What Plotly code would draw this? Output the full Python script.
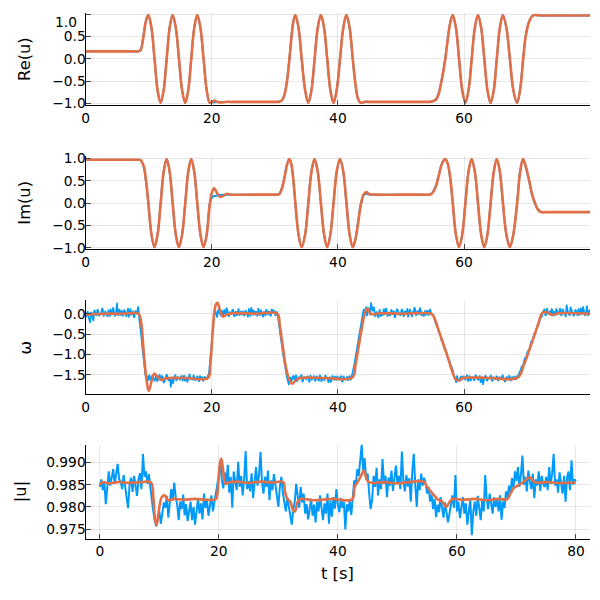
import plotly.graph_objects as go

# ---------------- data ----------------
# key times for the complex signal u (seconds)
t_uv = [0.0, 4.0, 7.5, 8.3, 8.7, 9.2, 9.6, 9.95, 10.44, 10.93, 11.41, 11.9, 12.375, 12.85, 13.325,
        13.8, 14.3, 14.8, 15.3, 15.8, 16.275, 16.75, 17.225, 17.7, 18.2, 18.7, 19.2, 19.7, 20.05,
        20.4, 20.8, 21.3, 21.8, 22.4, 23.0, 26.0, 29.5, 30.3, 30.7, 31.2, 31.6, 32.0, 32.3, 32.6,
        32.9, 33.25, 33.75, 34.25, 34.8, 35.3, 35.8, 36.3, 36.8, 37.3, 37.8, 38.3, 38.8, 39.3,
        39.8, 40.33, 40.85, 41.35, 41.85, 42.35, 42.8, 43.2, 43.65, 44.1, 44.5, 45.0, 46.0, 50.0,
        53.5, 54.4, 54.8, 55.5, 56.0, 56.5, 57.0, 57.4, 57.8, 58.2, 58.7, 59.2, 59.7, 60.2, 60.7,
        61.2, 61.7, 62.2, 62.7, 63.2, 63.7, 64.2, 64.7, 65.18, 65.67, 66.15, 66.7, 67.25, 67.8,
        68.4, 68.9, 69.35, 69.8, 70.3, 70.8, 71.2, 71.7, 72.2, 73.0, 76.0, 80.0]

re_meas = [0.17, 0.17, 0.17, 0.17, 0.20, 0.55, 0.88, 0.985, 0.70, 0.0, -0.70, -0.985, -0.70, 0.0, 0.70,
           0.985, 0.70, 0.0, -0.70, -0.985, -0.70, 0.0, 0.70, 0.985, 0.70, 0.0, -0.70, -0.985, -0.975,
           -0.968, -0.965, -0.962, -0.962, -0.962, -0.962, -0.962, -0.962, -0.962, -0.955, -0.91, -0.75, -0.40, 0.0, 0.45,
           0.82, 0.985, 0.70, 0.0, -0.70, -0.985, -0.70, 0.0, 0.70, 0.985, 0.70, 0.0, -0.70, -0.985,
           -0.70, 0.0, 0.70, 0.985, 0.70, 0.0, -0.60, -0.90, -0.985, -0.97, -0.962, -0.962, -0.962, -0.962,
           -0.962, -0.962, -0.955, -0.91, -0.75, -0.42, 0.0, 0.45, 0.82, 0.985, 0.70, 0.0, -0.70, -0.985, -0.70,
           0.0, 0.70, 0.985, 0.70, 0.0, -0.70, -0.985, -0.70, 0.0, 0.70, 0.985, 0.70, 0.0, -0.70,
           -0.985, -0.66, 0.0, 0.55, 0.84, 0.96, 0.985, 0.978, 0.975, 0.975, 0.975, 0.975]

re_est = [0.17, 0.17, 0.17, 0.17, 0.19, 0.52, 0.86, 0.985, 0.71, 0.02, -0.69, -0.985, -0.71, -0.02, 0.69,
          0.985, 0.71, 0.02, -0.69, -0.985, -0.71, -0.02, 0.69, 0.985, 0.71, 0.02, -0.69, -0.985, -0.96,
          -0.93, -0.955, -0.975, -0.972, -0.96, -0.962, -0.962, -0.962, -0.962, -0.957, -0.92, -0.77, -0.43, -0.03, 0.42,
          0.80, 0.985, 0.71, 0.02, -0.69, -0.985, -0.71, -0.02, 0.69, 0.985, 0.71, 0.02, -0.69, -0.985,
          -0.71, -0.02, 0.69, 0.985, 0.71, 0.02, -0.58, -0.89, -0.985, -0.965, -0.955, -0.962, -0.962, -0.962,
          -0.962, -0.962, -0.957, -0.92, -0.77, -0.45, -0.03, 0.42, 0.80, 0.985, 0.71, 0.02, -0.69, -0.985, -0.71,
          -0.02, 0.69, 0.985, 0.71, 0.02, -0.69, -0.985, -0.71, -0.02, 0.69, 0.985, 0.71, 0.02, -0.69,
          -0.985, -0.68, -0.03, 0.53, 0.83, 0.96, 0.985, 0.978, 0.975, 0.975, 0.975, 0.975]

im_meas = [0.97, 0.97, 0.97, 0.97, 0.96, 0.82, 0.46, 0.0, -0.70, -0.985, -0.70, 0.0, 0.70, 0.985, 0.70,
           0.0, -0.70, -0.985, -0.70, 0.0, 0.70, 0.985, 0.70, 0.0, -0.70, -0.985, -0.70, 0.0, 0.13,
           0.16, 0.17, 0.18, 0.185, 0.19, 0.19, 0.19, 0.19, 0.19, 0.21, 0.38, 0.64, 0.90, 0.985, 0.88,
           0.55, 0.0, -0.70, -0.985, -0.70, 0.0, 0.70, 0.985, 0.70, 0.0, -0.70, -0.985, -0.70, 0.0,
           0.70, 0.985, 0.70, 0.0, -0.70, -0.985, -0.78, -0.42, 0.0, 0.18, 0.21, 0.19, 0.19, 0.19,
           0.19, 0.19, 0.21, 0.38, 0.64, 0.89, 0.985, 0.88, 0.55, 0.0, -0.70, -0.985, -0.70, 0.0, 0.70,
           0.985, 0.70, 0.0, -0.70, -0.985, -0.70, 0.0, 0.70, 0.985, 0.70, 0.0, -0.70, -0.985, -0.70,
           0.0, 0.73, 0.985, 0.80, 0.50, 0.17, 0.0, -0.15, -0.20, -0.20, -0.20, -0.20]

im_est = [0.97, 0.97, 0.97, 0.97, 0.965, 0.84, 0.49, 0.02, -0.69, -0.985, -0.71, -0.02, 0.69, 0.985, 0.71,
          0.02, -0.69, -0.985, -0.71, -0.02, 0.69, 0.985, 0.71, 0.02, -0.69, -0.985, -0.71, -0.02, 0.25,
          0.33, 0.24, 0.14, 0.16, 0.21, 0.19, 0.19, 0.19, 0.19, 0.20, 0.36, 0.62, 0.89, 0.985, 0.89,
          0.58, 0.02, -0.69, -0.985, -0.71, -0.02, 0.69, 0.985, 0.71, 0.02, -0.69, -0.985, -0.71, -0.02,
          0.69, 0.985, 0.71, 0.02, -0.69, -0.985, -0.80, -0.45, -0.03, 0.20, 0.25, 0.20, 0.19, 0.19,
          0.19, 0.19, 0.20, 0.36, 0.62, 0.88, 0.985, 0.89, 0.58, 0.02, -0.69, -0.985, -0.71, -0.02, 0.69,
          0.985, 0.71, 0.02, -0.69, -0.985, -0.71, -0.02, 0.69, 0.985, 0.71, 0.02, -0.69, -0.985, -0.71,
          -0.02, 0.71, 0.985, 0.81, 0.52, 0.19, 0.02, -0.14, -0.20, -0.20, -0.20, -0.20]

# sampled measurement grid for omega and |u| (0.25 s)
t_fine = [i * 0.25 for i in range(321)]
# extra omega samples half-way between the 0.25 s grid points
t_half = [0.125 + i * 0.25 for i in range(320)]

omega_meas = [
    0.05, -0.03, -0.10, -0.22, 0.02, -0.18, 0.06, -0.05, 0.08, -0.02, 0.04, 0.10, -0.04, 0.03, -0.08, 0.05, 0.12, -0.03, 0.02, -0.06,
    0.27, 0.03, -0.05, 0.09, -0.02, 0.06, -0.08, 0.14, 0.01, -0.04, 0.07, -0.10, 0.05, 0.12, -0.12, -0.42, -0.85, -1.22, -1.52, -1.62,
    -1.55, -1.63, -1.52, -1.60, -1.66, -1.54, -1.58, -1.49, -1.61, -1.57, -1.68, -1.53, -1.59, -1.64, -1.81, -1.55, -1.60, -1.50, -1.62, -1.57,
    -1.63, -1.52, -1.58, -1.66, -1.55, -1.61, -1.48, -1.59, -1.64, -1.56, -1.60, -1.53, -1.67, -1.58, -1.55, -1.62, -1.57, -1.60, -1.50, -1.12,
    -0.62, -0.15, 0.03, -0.04, 0.08, 0.01, -0.06, 0.05, 0.11, -0.02, 0.04, -0.08, 0.02, 0.09, -0.03, 0.06, -0.05, 0.13, 0.00, -0.04,
    0.07, -0.02, 0.05, -0.09, 0.03, 0.16, -0.04, 0.02, 0.06, -0.07, 0.01, 0.10, -0.03, 0.05, -0.06, 0.08, 0.02, -0.04, 0.12, 0.01,
    -0.03, 0.05, -0.10, -0.36, -0.66, -0.95, -1.22, -1.45, -1.62, -1.75, -1.56, -1.63, -1.52, -1.60, -1.67, -1.55, -1.59, -1.50, -1.64, -1.57,
    -1.61, -1.53, -1.69, -1.56, -1.60, -1.52, -1.63, -1.58, -1.66, -1.54, -1.59, -1.62, -1.51, -1.57, -1.70, -1.55, -1.61, -1.58, -1.53, -1.64,
    -1.56, -1.60, -1.52, -1.67, -1.58, -1.62, -1.54, -1.59, -1.63, -1.50, -1.33, -1.10, -0.86, -0.60, -0.35, -0.12, 0.05, -0.03, 0.18, 0.07,
    0.10, 0.28, 0.06, 0.14, -0.05, 0.03, 0.09, -0.08, 0.04, 0.12, -0.03, 0.07, 0.01, -0.06, 0.11, 0.02, -0.10, 0.05, 0.08, -0.02,
    0.04, 0.09, -0.05, 0.02, 0.13, -0.03, 0.06, -0.08, 0.03, 0.10, -0.02, 0.05, 0.15, -0.06, 0.02, 0.07, -0.04, 0.09, 0.01, 0.03,
    -0.04, -0.10, -0.25, -0.31, -0.45, -0.52, -0.63, -0.76, -0.86, -0.95, -1.12, -1.17, -1.30, -1.40, -1.55, -1.70, -1.58, -1.64, -1.53, -1.60,
    -1.55, -1.62, -1.50, -1.59, -1.66, -1.56, -1.61, -1.53, -1.58, -1.64, -1.52, -1.60, -1.75, -1.57, -1.54, -1.62, -1.59, -1.51, -1.66, -1.58,
    -1.61, -1.55, -1.63, -1.57, -1.52, -1.60, -1.68, -1.56, -1.59, -1.54, -1.62, -1.58, -1.53, -1.58, -1.55, -1.47, -1.37, -1.29, -1.15, -1.08,
    -0.95, -0.89, -0.77, -0.70, -0.56, -0.50, -0.36, -0.27, -0.16, -0.09, 0.04, 0.12, -0.03, 0.08, 0.02, -0.05, 0.10, 0.03, -0.04, 0.07,
    0.01, 0.14, -0.03, 0.06, -0.07, 0.22, 0.02, -0.05, 0.11, 0.04, -0.02, 0.08, -0.06, 0.03, 0.15, -0.01, 0.05, -0.04, 0.20, 0.02,
    0.06]

omega_meas_half = [
    -0.08, 0.06, -0.15, 0.04, -0.12, 0.09, -0.03, 0.11, -0.06, 0.02, 0.14, -0.05, 0.07, -0.02, 0.10, -0.07, 0.04, 0.16, -0.04, 0.08,
    -0.05, 0.12, 0.02, -0.07, 0.10, -0.03, 0.05, -0.09, 0.13, 0.03, -0.06, 0.08, -0.01, 0.18, -0.25, -0.62, -1.05, -1.38, -1.50, -1.66,
    -1.50, -1.65, -1.56, -1.62, -1.51, -1.67, -1.55, -1.63, -1.52, -1.70, -1.58, -1.49, -1.64, -1.56, -1.61, -1.72, -1.53, -1.65, -1.55, -1.62,
    -1.54, -1.66, -1.51, -1.60, -1.69, -1.53, -1.62, -1.56, -1.50, -1.65, -1.57, -1.63, -1.52, -1.61, -1.66, -1.54, -1.60, -1.52, -1.35, -0.85,
    -0.38, -0.05, 0.07, -0.09, 0.12, -0.04, 0.08, -0.06, 0.03, 0.15, -0.07, 0.05, -0.02, 0.10, -0.08, 0.04, 0.11, -0.05, 0.07, 0.02,
    -0.06, 0.09, -0.02, 0.13, -0.07, 0.05, 0.10, -0.04, 0.02, 0.14, -0.05, 0.06, -0.09, 0.03, 0.11, -0.03, 0.07, -0.06, 0.04, 0.09,
    -0.06, 0.03, -0.22, -0.50, -0.80, -1.08, -1.33, -1.53, -1.68, -1.58, -1.66, -1.54, -1.62, -1.50, -1.64, -1.57, -1.52, -1.68, -1.55, -1.61,
    -1.55, -1.64, -1.51, -1.62, -1.57, -1.66, -1.53, -1.60, -1.50, -1.67, -1.56, -1.63, -1.54, -1.61, -1.58, -1.69, -1.52, -1.64, -1.57, -1.55,
    -1.63, -1.54, -1.66, -1.53, -1.61, -1.57, -1.65, -1.52, -1.60, -1.42, -1.22, -0.98, -0.73, -0.48, -0.25, -0.06, 0.12, 0.04, -0.06, 0.15,
    -0.04, 0.08, 0.17, -0.06, 0.05, -0.10, 0.11, 0.02, -0.05, 0.09, 0.14, -0.07, 0.04, 0.10, -0.03, 0.07, -0.08, 0.12, 0.03, -0.05,
    0.11, -0.06, 0.07, 0.02, -0.09, 0.12, -0.02, 0.06, 0.16, -0.05, 0.08, -0.03, 0.10, 0.03, -0.07, 0.09, 0.01, -0.05, 0.12, -0.02,
    -0.02, -0.19, -0.24, -0.42, -0.46, -0.64, -0.68, -0.86, -0.90, -1.08, -1.12, -1.30, -1.34, -1.52, -1.62, -1.52, -1.66, -1.55, -1.63, -1.53,
    -1.61, -1.54, -1.67, -1.52, -1.60, -1.57, -1.65, -1.51, -1.63, -1.56, -1.70, -1.55, -1.62, -1.53, -1.66, -1.58, -1.52, -1.64, -1.56, -1.61,
    -1.53, -1.65, -1.56, -1.62, -1.50, -1.64, -1.57, -1.61, -1.52, -1.66, -1.55, -1.60, -1.63, -1.54, -1.50, -1.45, -1.29, -1.25, -1.09, -1.05,
    -0.89, -0.85, -0.69, -0.66, -0.49, -0.45, -0.29, -0.25, -0.09, -0.06, 0.09, -0.05, 0.14, -0.02, 0.07, 0.11, -0.06, 0.05, 0.13, -0.03,
    0.08, -0.05, 0.12, 0.03, -0.08, 0.10, -0.02, 0.17, 0.04, -0.06, 0.09, 0.01, 0.13, -0.04, 0.07, 0.18, -0.03, 0.10, -0.05, 0.08]

t_omega_est = [0.0, 3.0, 6.0, 8.4, 8.8, 9.2, 9.6, 10.0, 10.4, 10.9, 11.4, 12.0, 12.6, 16.0, 19.4, 19.8,
               20.2, 20.6, 20.9, 21.3, 21.8, 22.4, 23.2, 27.0, 30.4, 30.8, 31.3, 31.8, 32.3, 32.8, 33.3,
               34.0, 38.0, 42.3, 42.8, 43.3, 43.8, 44.3, 44.7, 45.1, 45.6, 46.5, 50.0, 54.8, 55.2, 55.8,
               56.5, 57.4, 58.2, 58.7, 59.2, 59.8, 64.0, 68.5, 69.5, 70.6, 71.7, 72.4, 73.0, 74.0, 75.0,
               80.0]
omega_est = [-0.02, 0.0, 0.0, 0.0, -0.2, -0.9, -1.55, -1.9, -1.7, -1.47, -1.55, -1.63, -1.59, -1.58, -1.58, -1.2,
             -0.35, 0.2, 0.27, 0.1, -0.07, -0.02, 0.01, 0.0, 0.0, -0.3, -0.85, -1.35, -1.62, -1.72, -1.64,
             -1.58, -1.58, -1.57, -1.25, -0.8, -0.35, 0.02, 0.13, 0.02, -0.02, 0.01, 0.0, 0.0, -0.07, -0.33,
             -0.65, -1.06, -1.45, -1.62, -1.64, -1.58, -1.58, -1.57, -1.25, -0.78, -0.28, 0.02, 0.04, -0.03, 0.01,
             0.0]

absu_meas = [
    0.9845, 0.9862, 0.9838, 0.9858, 0.9806, 0.9852, 0.9880, 0.9848, 0.9868, 0.9885, 0.9852, 0.9875, 0.9897, 0.9862, 0.9858, 0.9840, 0.9872, 0.9846, 0.9820, 0.9797,
    0.9851, 0.9866, 0.9834, 0.9870, 0.9848, 0.9825, 0.9862, 0.9876, 0.9840, 0.9919, 0.9868, 0.9880, 0.9852, 0.9874, 0.9842, 0.9810, 0.9788, 0.9768, 0.9756, 0.9772,
    0.9790, 0.9762, 0.9785, 0.9810, 0.9798, 0.9825, 0.9776, 0.9802, 0.9840, 0.9815, 0.9855, 0.9822, 0.9805, 0.9770, 0.9812, 0.9795, 0.9828, 0.9781, 0.9806, 0.9768,
    0.9792, 0.9812, 0.9770, 0.9800, 0.9760, 0.9795, 0.9820, 0.9785, 0.9808, 0.9772, 0.9830, 0.9798, 0.9815, 0.9780, 0.9805, 0.9826, 0.9790, 0.9812, 0.9835, 0.9848,
    0.9872, 0.9905, 0.9860, 0.9842, 0.9878, 0.9850, 0.9895, 0.9832, 0.9868, 0.9798, 0.9880, 0.9858, 0.9838, 0.9902, 0.9845, 0.9870, 0.9826, 0.9862, 0.9926, 0.9840,
    0.9858, 0.9835, 0.9876, 0.9820, 0.9866, 0.9890, 0.9848, 0.9872, 0.9924, 0.9855, 0.9830, 0.9868, 0.9845, 0.9882, 0.9815, 0.9860, 0.9838, 0.9874, 0.9850, 0.9826,
    0.9800, 0.9845, 0.9868, 0.9832, 0.9815, 0.9790, 0.9822, 0.9803, 0.9775, 0.9760, 0.9792, 0.9812, 0.9852, 0.9820, 0.9798, 0.9845, 0.9810, 0.9830, 0.9785, 0.9806,
    0.9772, 0.9795, 0.9818, 0.9780, 0.9805, 0.9765, 0.9812, 0.9790, 0.9826, 0.9798, 0.9770, 0.9808, 0.9785, 0.9830, 0.9762, 0.9815, 0.9778, 0.9822, 0.9796, 0.9840,
    0.9805, 0.9788, 0.9820, 0.9798, 0.9812, 0.9749, 0.9806, 0.9790, 0.9815, 0.9782, 0.9832, 0.9860, 0.9848, 0.9885, 0.9870, 0.9905, 0.9940, 0.9882, 0.9910, 0.9862,
    0.9875, 0.9832, 0.9795, 0.9815, 0.9870, 0.9845, 0.9888, 0.9826, 0.9862, 0.9840, 0.9908, 0.9852, 0.9870, 0.9822, 0.9866, 0.9848, 0.9882, 0.9836, 0.9860, 0.9893,
    0.9852, 0.9870, 0.9840, 0.9925, 0.9858, 0.9835, 0.9872, 0.9846, 0.9865, 0.9812, 0.9880, 0.9920, 0.9850, 0.9800, 0.9862, 0.9838, 0.9875, 0.9848, 0.9866, 0.9852,
    0.9830, 0.9845, 0.9812, 0.9828, 0.9795, 0.9818, 0.9777, 0.9805, 0.9788, 0.9822, 0.9798, 0.9776, 0.9810, 0.9792, 0.9765, 0.9785, 0.9808, 0.9826, 0.9798, 0.9872,
    0.9790, 0.9812, 0.9775, 0.9800, 0.9822, 0.9785, 0.9808, 0.9760, 0.9795, 0.9818, 0.9736, 0.9790, 0.9812, 0.9780, 0.9825, 0.9798, 0.9770, 0.9815, 0.9790, 0.9872,
    0.9818, 0.9795, 0.9830, 0.9808, 0.9785, 0.9822, 0.9800, 0.9815, 0.9790, 0.9826, 0.9771, 0.9812, 0.9798, 0.9835, 0.9820, 0.9848, 0.9832, 0.9865, 0.9842, 0.9880,
    0.9858, 0.9890, 0.9845, 0.9872, 0.9916, 0.9850, 0.9868, 0.9835, 0.9882, 0.9858, 0.9840, 0.9875, 0.9820, 0.9862, 0.9848, 0.9880, 0.9836, 0.9870, 0.9852, 0.9845,
    0.9868, 0.9838, 0.9890, 0.9852, 0.9875, 0.9920, 0.9848, 0.9862, 0.9832, 0.9878, 0.9855, 0.9830, 0.9870, 0.9812, 0.9866, 0.9880, 0.9838, 0.9905, 0.9850, 0.9862,
    0.9858]

t_absu_est = [0.0, 0.5, 1.5, 3.0, 5.0, 7.0, 8.6, 9.0, 9.3, 9.55, 9.9, 10.4, 10.9, 11.5, 12.5, 14.0, 16.0,
              18.0, 19.5, 19.8, 20.1, 20.4, 20.7, 21.1, 21.6, 23.0, 25.0, 27.0, 29.0, 30.8, 31.1, 31.5,
              32.0, 32.5, 32.8, 33.2, 33.7, 36.0, 39.0, 42.4, 42.8, 43.3, 43.8, 44.35, 44.7, 45.1, 46.0,
              48.0, 50.0, 52.0, 54.4, 55.0, 55.8, 56.7, 57.5, 58.2, 58.7, 59.3, 61.0, 63.0, 65.0, 67.0,
              68.4, 69.0, 69.6, 70.5, 71.3, 72.3, 72.8, 73.5, 75.0, 77.0, 80.0]
absu_est = [0.9849, 0.9856, 0.9853, 0.9856, 0.9854, 0.9856, 0.9855, 0.9820, 0.9770, 0.9760, 0.9790, 0.9822, 0.9826, 0.9815, 0.9818, 0.9816, 0.9818,
            0.9816, 0.9818, 0.9835, 0.9890, 0.9909, 0.9885, 0.9852, 0.9855, 0.9857, 0.9854, 0.9857, 0.9855, 0.9856, 0.9835, 0.9818,
            0.9812, 0.9792, 0.9790, 0.9810, 0.9818, 0.9815, 0.9818, 0.9817, 0.9845, 0.9856, 0.9868, 0.9882, 0.9868, 0.9857, 0.9854,
            0.9856, 0.9853, 0.9856, 0.9857, 0.9845, 0.9832, 0.9818, 0.9812, 0.9800, 0.9810, 0.9818, 0.9816, 0.9818, 0.9815, 0.9818,
            0.9817, 0.9830, 0.9843, 0.9850, 0.9858, 0.9867, 0.9858, 0.9855, 0.9856, 0.9854, 0.9855]

# merge the two omega sample sets into one time-ordered series
_om = sorted(zip(t_fine + t_half, omega_meas + omega_meas_half))
t_omega_meas = [p[0] for p in _om]
omega_meas_all = [p[1] for p in _om]

# ---------------- styling ----------------
BLUE = "#009AFA"
ORANGE = "#E36F47"
FONT = "DejaVu Sans"
W, H = 600, 600
# the page is photographed slightly shrunk and offset; map target pixels to figure pixels
SCX, OX = 0.99, 11.7
SCY, OY = 0.98, 13.5


def fx(px):
    return min(1.0, max(0.0, (px - OX) / SCX / W))


def fy(py):
    return min(1.0, max(0.0, 1 - (py - OY) / SCY / H))


def ydom(top_px, bot_px):
    return [fy(bot_px), fy(top_px)]


fig = go.Figure()

panels = [
    (t_uv, re_meas, t_uv, re_est, "spline", "spline", 2.0),
    (t_uv, im_meas, t_uv, im_est, "spline", "spline", 2.0),
    (t_omega_meas, omega_meas_all, t_omega_est, omega_est, "linear", "spline", 1.6),
    (t_fine, absu_meas, t_absu_est, absu_est, "linear", "spline", 2.0),
]
for i, (tm, ym, te, ye, sm, se, bw) in enumerate(panels):
    sfx = "" if i == 0 else str(i + 1)
    fig.add_trace(go.Scatter(x=tm, y=ym, mode="lines", xaxis="x" + sfx, yaxis="y" + sfx,
                             line=dict(color=BLUE, width=bw, shape=sm), showlegend=False,
                             hoverinfo="skip"))
    fig.add_trace(go.Scatter(x=te, y=ye, mode="lines", xaxis="x" + sfx, yaxis="y" + sfx,
                             line=dict(color=ORANGE, width=2.6, shape=se), showlegend=False,
                             hoverinfo="skip"))

TICKFONT = dict(family=FONT, size=13.8, color="black")
axis_common = dict(showline=True, linecolor="black", linewidth=1.2, mirror=False,
                   ticks="inside", ticklen=5, tickwidth=1, tickcolor="#444444",
                   showgrid=True, gridcolor="rgba(0,0,0,0.09)", gridwidth=1, zeroline=False,
                   tickfont=TICKFONT)

y_domains = [ydom(13.5, 105.7), ydom(156.0, 249.3), ydom(300.3, 393.7), ydom(444.3, 538.3)]
y_ranges = [[-1.04, 1.03], [-1.03, 1.06], [-1.97, 0.33], [0.97283, 0.99407]]
y_ticks = [[-1.0, -0.5, 0.0, 0.5, 1.0], [-1.0, -0.5, 0.0, 0.5, 1.0],
           [-1.5, -1.0, -0.5, 0.0], [0.975, 0.980, 0.985, 0.990]]
y_text = [["−1.0", "−0.5", "0.0", "0.5", ""],
          ["−1.0", "−0.5", "0.0", "0.5", "1.0"],
          ["−1.5", "−1.0", "−0.5", "0.0"],
          ["0.975", "0.980", "0.985", "0.990"]]
x_ranges = [[0, 80], [0, 80], [0, 80], [-2.4, 82.4]]
x_ticks = [[0, 20, 40, 60], [0, 20, 40, 60], [0, 20, 40, 60], [0, 20, 40, 60, 80]]

lay = {}
for i in range(4):
    sfx = "" if i == 0 else str(i + 1)
    lay["xaxis" + sfx] = dict(axis_common, domain=[fx(85), fx(588)], range=x_ranges[i],
                              anchor="y" + sfx, tickvals=x_ticks[i],
                              ticktext=[str(v) for v in x_ticks[i]])
    lay["yaxis" + sfx] = dict(axis_common, domain=y_domains[i], range=y_ranges[i], anchor="x" + sfx,
                              tickvals=y_ticks[i], ticktext=y_text[i], ticklabelstandoff=-4)

titles = [("Re(u)", 24, 59), ("Im(u)", 24, 202.5), ("ω", 25, 347), ("|u|", 20, 491.5)]
annotations = []
for txt, xp, yp in titles:
    annotations.append(dict(text=txt, x=fx(xp), y=fy(yp), xref="paper", yref="paper",
                            showarrow=False, textangle=-90, xanchor="center", yanchor="middle",
                            font=dict(family=FONT, size=16.3, color="black")))
annotations.append(dict(text="t [s]", x=fx(336.5), y=fy(573.5), xref="paper", yref="paper",
                        showarrow=False, xanchor="center", yanchor="middle",
                        font=dict(family=FONT, size=16.3, color="black")))
# top tick label of the first panel sits at the very top edge of the page
annotations.append(dict(text="1.0", x=fx(77.5), y=1.0, xref="paper", yref="paper",
                        showarrow=False, xanchor="right", yanchor="top", borderpad=0,
                        font=TICKFONT))

fig.update_layout(width=W, height=H, margin=dict(l=0, r=0, t=0, b=0),
                  paper_bgcolor="white", plot_bgcolor="white", showlegend=False,
                  annotations=annotations, **lay)

fig.write_html("out.html")
